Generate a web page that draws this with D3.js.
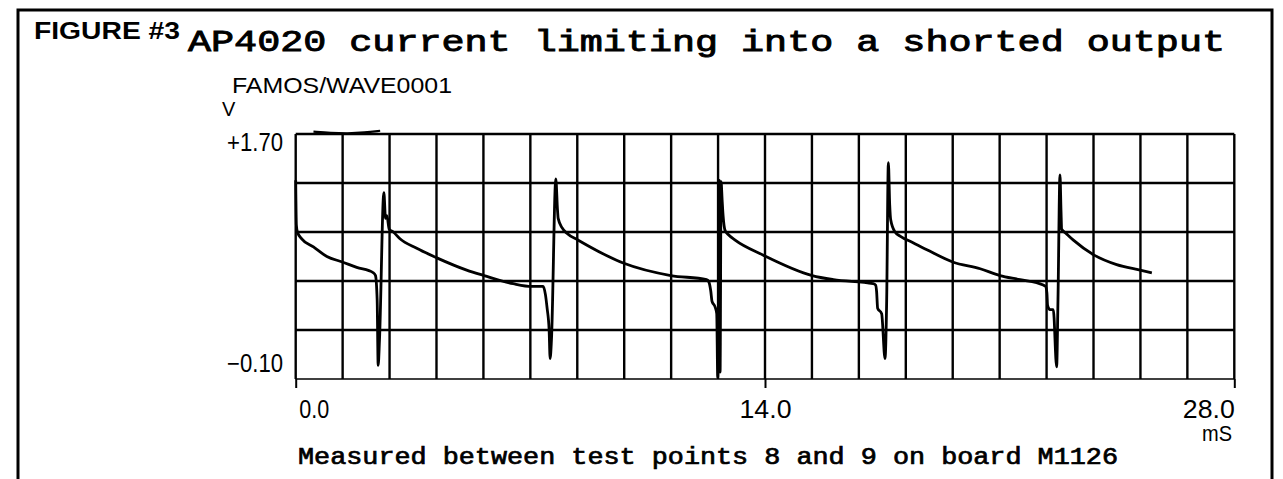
<!DOCTYPE html>
<html>
<head>
<meta charset="utf-8">
<script src="https://cdn.jsdelivr.net/npm/d3@7"></script>
<style>
  html, body { margin: 0; padding: 0; background: #fff; }
  svg { display: block; }
</style>
</head>
<body>
<svg id="chart" width="1283" height="479"></svg>
<script>
// ---- data ----
const figureLabel = "FIGURE #3";
const titleText = "AP4020 current limiting into a shorted output";
const sourceText = "FAMOS/WAVE0001";
const captionText = "Measured between test points 8 and 9 on board M1126";
const yUnit = "V";
const xUnit = "mS";
const xDomain = [0, 28];
const yDomain = [-0.10, 1.70];
const xTickValues = [0, 14, 28];
const xTickLabels = ["0.0", "14.0", "28.0"];
const yTickValues = [1.70, -0.10];
const yTickLabels = ["+1.70", "\u22120.10"];
const xDivisions = 20;
const yDivisions = 5;

// waveform: time (ms) and voltage (V)
const traceT = [
  0.00, 0.02, 0.05, 0.18, 0.53, 0.93, 1.39, 1.82, 2.32, 2.38, 2.43, 2.46, 2.50, 2.63, 2.68, 2.72, 2.79, 2.91,
  3.11, 3.61, 4.21, 5.10, 5.62, 6.49, 7.04, 7.38, 7.45, 7.50, 7.56, 7.59, 7.63, 7.76, 7.81, 7.83, 7.95, 8.09,
  8.43, 9.79, 11.19, 12.26, 12.33, 12.38, 12.42, 12.51, 12.56, 12.59, 12.64, 12.66, 12.69, 12.72, 12.75, 12.81,
  12.91, 13.11, 13.95, 15.41, 16.04, 17.23, 17.30, 17.33, 17.36, 17.48, 17.58, 17.63, 17.68, 17.72, 17.75, 17.88,
  18.03, 18.43, 18.83, 19.60, 20.42, 21.01, 21.61, 22.30, 22.37, 22.41, 22.43, 22.50, 22.60, 22.70, 22.74, 22.80,
  22.83, 22.85, 22.98, 23.20, 23.82, 24.49, 25.19, 25.54
];
const traceV = [
  1.36, 1.03, 0.98, 0.93, 0.87, 0.80, 0.76, 0.72, 0.68, 0.66, 0.48, 0.00, 0.19, 1.27, 1.08, 1.10, 1.00, 0.98,
  0.93, 0.86, 0.79, 0.70, 0.66, 0.60, 0.58, 0.58, 0.52, 0.42, 0.26, 0.05, 0.19, 1.37, 1.14, 1.08, 1.01, 0.97,
  0.92, 0.75, 0.66, 0.63, 0.61, 0.55, 0.47, 0.43, 0.38, -0.09, 1.36, -0.05, 1.35, 1.22, 1.10, 0.99,
  0.96, 0.92, 0.81, 0.66, 0.63, 0.60, 0.59, 0.54, 0.42, 0.38, 0.05, 0.48, 1.49, 1.18, 1.07, 0.98,
  0.95, 0.90, 0.85, 0.76, 0.71, 0.66, 0.63, 0.59, 0.58, 0.53, 0.44, 0.41, 0.41, -0.01, 0.48, 1.40,
  1.14, 1.00, 0.97, 0.92, 0.81, 0.74, 0.70, 0.68
];
// short over-range fragment of the trace drawn just above the top grid line
const overT = [0.53, 1.05, 1.55, 2.05, 2.52];
const overV = [1.717, 1.708, 1.704, 1.710, 1.724];

// ---- drawing ----
const svg = d3.select("#chart");
const x = d3.scaleLinear().domain(xDomain).range([295.7, 1234.3]);
const y = d3.scaleLinear().domain(yDomain).range([379, 134]);
const sans = "'Liberation Sans', Arial, sans-serif";
const mono = "'Courier New', 'Liberation Mono', monospace";

// frame
svg.append("path")
  .attr("d", "M18,479 L18,10 L1272,10 L1272,479")
  .attr("fill", "none").attr("stroke", "#000").attr("stroke-width", 3);

// grid
const xGrid = d3.range(xDivisions + 1).map(i => xDomain[0] + i * (xDomain[1] - xDomain[0]) / xDivisions);
const yGrid = d3.range(yDivisions + 1).map(i => yDomain[0] + i * (yDomain[1] - yDomain[0]) / yDivisions);
const grid = svg.append("g").attr("stroke", "#000").attr("stroke-width", 2.4);
grid.selectAll("line.v").data(xGrid).join("line").attr("class", "v")
  .attr("x1", d => x(d)).attr("x2", d => x(d))
  .attr("y1", y(yDomain[1])).attr("y2", y(yDomain[0]));
grid.selectAll("line.h").data(yGrid).join("line").attr("class", "h")
  .attr("x1", x(xDomain[0])).attr("x2", x(xDomain[1]))
  .attr("y1", d => y(d)).attr("y2", d => y(d))
  .attr("stroke-width", d => d === yDomain[0] ? 1.6 : 2.4);

// x axis ticks + labels
const xAxis = d3.axisBottom(x).tickValues(xTickValues).tickSize(9).tickSizeOuter(0)
  .tickFormat((d, i) => xTickLabels[i]);
const gx = svg.append("g").attr("transform", `translate(0,${y(yDomain[0])})`).call(xAxis);
gx.select(".domain").remove();
gx.selectAll(".tick line").attr("stroke", "#000").attr("stroke-width", 2);
gx.selectAll(".tick text")
  .attr("fill", "#000")
  .attr("font-family", sans)
  .attr("font-size", 25)
  .attr("y", 39)
  .attr("dy", null)
  .attr("text-anchor", (d, i) => i === 0 ? "start" : (i === xTickValues.length - 1 ? "end" : "middle"))
  .attr("dx", (d, i) => i === 0 ? 3 : 0)
  .attr("textLength", (d, i) => i === 0 ? 30 : 52)
  .attr("lengthAdjust", "spacingAndGlyphs");

// y labels
svg.selectAll("text.ylab").data(yTickValues).join("text").attr("class", "ylab")
  .attr("x", 283)
  .attr("y", (d, i) => i === 0 ? y(d) + 17 : y(d) - 7)
  .attr("text-anchor", "end")
  .attr("font-family", sans).attr("font-size", 25)
  .attr("textLength", 56).attr("lengthAdjust", "spacingAndGlyphs")
  .text((d, i) => yTickLabels[i]);

svg.append("text").attr("x", 222).attr("y", 116)
  .attr("font-family", sans).attr("font-size", 20).text(yUnit);
svg.append("text").attr("x", 1232).attr("y", 441).attr("text-anchor", "end")
  .attr("font-family", sans).attr("font-size", 22)
  .attr("textLength", 30).attr("lengthAdjust", "spacingAndGlyphs").text(xUnit);

// trace
const line = d3.line().curve(d3.curveMonotoneX).x(d => x(d[0])).y(d => y(d[1]));
svg.append("path")
  .datum(traceT.map((t, i) => [t, traceV[i]]))
  .attr("d", line).attr("fill", "none").attr("stroke", "#000")
  .attr("stroke-width", 2.8).attr("stroke-linejoin", "round");
svg.append("path")
  .datum(overT.map((t, i) => [t, overV[i]]))
  .attr("d", d3.line().curve(d3.curveBasis).x(d => x(d[0])).y(d => y(d[1])))
  .attr("fill", "none").attr("stroke", "#000").attr("stroke-width", 2.2);

// texts
svg.append("text").attr("x", 34).attr("y", 39)
  .attr("font-family", sans).attr("font-weight", "bold")
  .attr("font-size", 24).attr("textLength", 146).attr("lengthAdjust", "spacingAndGlyphs")
  .text(figureLabel);
svg.append("text").attr("x", 188).attr("y", 51)
  .attr("font-family", mono)
  .attr("stroke", "#000").attr("stroke-width", 0.9)
  .attr("font-size", 30).attr("textLength", 1037).attr("lengthAdjust", "spacingAndGlyphs")
  .text(titleText);
svg.append("text").attr("x", 232).attr("y", 93)
  .attr("font-family", sans)
  .attr("font-size", 22).attr("textLength", 220).attr("lengthAdjust", "spacingAndGlyphs")
  .text(sourceText);
svg.append("text").attr("x", 298).attr("y", 464)
  .attr("font-family", mono)
  .attr("stroke", "#000").attr("stroke-width", 0.7)
  .attr("font-size", 23).attr("textLength", 820).attr("lengthAdjust", "spacingAndGlyphs")
  .text(captionText);
</script>
</body>
</html>
